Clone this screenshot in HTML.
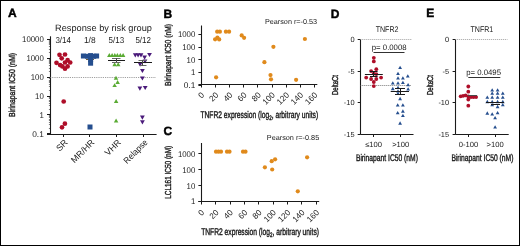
<!DOCTYPE html>
<html><head><meta charset="utf-8"><style>
html,body{margin:0;padding:0;background:#fff;}
.f{position:absolute;left:0;top:0;width:518px;height:244px;border:1px solid #000;overflow:hidden;}
svg{position:absolute;left:-1px;top:-1px;will-change:transform;}
text{font-family:"Liberation Sans", sans-serif;text-rendering:geometricPrecision;}
</style></head><body>
<div class="f"><svg width="520" height="246" viewBox="0 0 520 246">
<text x="8" y="17.4" font-size="12" font-weight="bold" fill="#000" stroke="#000" stroke-width="0.45">A</text>
<text x="163.5" y="17.6" font-size="12" font-weight="bold" fill="#000" stroke="#000" stroke-width="0.45">B</text>
<text x="163.5" y="135.3" font-size="12" font-weight="bold" fill="#000" stroke="#000" stroke-width="0.45">C</text>
<text x="330.8" y="17.6" font-size="12" font-weight="bold" fill="#000" stroke="#000" stroke-width="0.45">D</text>
<text x="426.3" y="17.3" font-size="12" font-weight="bold" fill="#000" stroke="#000" stroke-width="0.45">E</text>
<line x1="50.5" y1="36.3" x2="50.5" y2="134.5" stroke="#1a1a1a" stroke-width="1.1" />
<line x1="47" y1="134.5" x2="156.6" y2="134.5" stroke="#1a1a1a" stroke-width="1.1" />
<line x1="47" y1="133.5" x2="50" y2="133.5" stroke="#1a1a1a" stroke-width="1" />
<text x="43.8" y="136.70000000000002" font-size="8.3" font-weight="normal" fill="#1a1a1a" text-anchor="end" >0.1</text>
<line x1="48.9" y1="128.5" x2="50" y2="128.5" stroke="#444" stroke-width="0.7" />
<line x1="48.9" y1="124.5" x2="50" y2="124.5" stroke="#444" stroke-width="0.7" />
<line x1="48.9" y1="122.5" x2="50" y2="122.5" stroke="#444" stroke-width="0.7" />
<line x1="48.9" y1="120.5" x2="50" y2="120.5" stroke="#444" stroke-width="0.7" />
<line x1="48.9" y1="119.5" x2="50" y2="119.5" stroke="#444" stroke-width="0.7" />
<line x1="48.9" y1="117.5" x2="50" y2="117.5" stroke="#444" stroke-width="0.7" />
<line x1="48.9" y1="116.5" x2="50" y2="116.5" stroke="#444" stroke-width="0.7" />
<line x1="48.9" y1="115.5" x2="50" y2="115.5" stroke="#444" stroke-width="0.7" />
<line x1="47" y1="114.5" x2="50" y2="114.5" stroke="#1a1a1a" stroke-width="1" />
<text x="43.8" y="117.8" font-size="8.3" font-weight="normal" fill="#1a1a1a" text-anchor="end" textLength="4.35" lengthAdjust="spacingAndGlyphs" >1</text>
<line x1="48.9" y1="109.5" x2="50" y2="109.5" stroke="#444" stroke-width="0.7" />
<line x1="48.9" y1="105.5" x2="50" y2="105.5" stroke="#444" stroke-width="0.7" />
<line x1="48.9" y1="103.5" x2="50" y2="103.5" stroke="#444" stroke-width="0.7" />
<line x1="48.9" y1="101.5" x2="50" y2="101.5" stroke="#444" stroke-width="0.7" />
<line x1="48.9" y1="100.5" x2="50" y2="100.5" stroke="#444" stroke-width="0.7" />
<line x1="48.9" y1="98.5" x2="50" y2="98.5" stroke="#444" stroke-width="0.7" />
<line x1="48.9" y1="97.5" x2="50" y2="97.5" stroke="#444" stroke-width="0.7" />
<line x1="48.9" y1="96.5" x2="50" y2="96.5" stroke="#444" stroke-width="0.7" />
<line x1="47" y1="96.5" x2="50" y2="96.5" stroke="#1a1a1a" stroke-width="1" />
<text x="43.8" y="98.9" font-size="8.3" font-weight="normal" fill="#1a1a1a" text-anchor="end" textLength="8.7" lengthAdjust="spacingAndGlyphs" >10</text>
<line x1="48.9" y1="90.5" x2="50" y2="90.5" stroke="#444" stroke-width="0.7" />
<line x1="48.9" y1="86.5" x2="50" y2="86.5" stroke="#444" stroke-width="0.7" />
<line x1="48.9" y1="84.5" x2="50" y2="84.5" stroke="#444" stroke-width="0.7" />
<line x1="48.9" y1="82.5" x2="50" y2="82.5" stroke="#444" stroke-width="0.7" />
<line x1="48.9" y1="81.5" x2="50" y2="81.5" stroke="#444" stroke-width="0.7" />
<line x1="48.9" y1="80.5" x2="50" y2="80.5" stroke="#444" stroke-width="0.7" />
<line x1="48.9" y1="78.5" x2="50" y2="78.5" stroke="#444" stroke-width="0.7" />
<line x1="48.9" y1="77.5" x2="50" y2="77.5" stroke="#444" stroke-width="0.7" />
<line x1="47" y1="77.5" x2="50" y2="77.5" stroke="#1a1a1a" stroke-width="1" />
<text x="43.8" y="80.0" font-size="8.3" font-weight="normal" fill="#1a1a1a" text-anchor="end" textLength="13.049999999999999" lengthAdjust="spacingAndGlyphs" >100</text>
<line x1="48.9" y1="71.5" x2="50" y2="71.5" stroke="#444" stroke-width="0.7" />
<line x1="48.9" y1="68.5" x2="50" y2="68.5" stroke="#444" stroke-width="0.7" />
<line x1="48.9" y1="65.5" x2="50" y2="65.5" stroke="#444" stroke-width="0.7" />
<line x1="48.9" y1="63.5" x2="50" y2="63.5" stroke="#444" stroke-width="0.7" />
<line x1="48.9" y1="62.5" x2="50" y2="62.5" stroke="#444" stroke-width="0.7" />
<line x1="48.9" y1="61.5" x2="50" y2="61.5" stroke="#444" stroke-width="0.7" />
<line x1="48.9" y1="60.5" x2="50" y2="60.5" stroke="#444" stroke-width="0.7" />
<line x1="48.9" y1="59.5" x2="50" y2="59.5" stroke="#444" stroke-width="0.7" />
<line x1="47" y1="58.5" x2="50" y2="58.5" stroke="#1a1a1a" stroke-width="1" />
<text x="43.8" y="61.099999999999994" font-size="8.3" font-weight="normal" fill="#1a1a1a" text-anchor="end" textLength="17.4" lengthAdjust="spacingAndGlyphs" >1000</text>
<line x1="48.9" y1="52.5" x2="50" y2="52.5" stroke="#444" stroke-width="0.7" />
<line x1="48.9" y1="49.5" x2="50" y2="49.5" stroke="#444" stroke-width="0.7" />
<line x1="48.9" y1="46.5" x2="50" y2="46.5" stroke="#444" stroke-width="0.7" />
<line x1="48.9" y1="44.5" x2="50" y2="44.5" stroke="#444" stroke-width="0.7" />
<line x1="48.9" y1="43.5" x2="50" y2="43.5" stroke="#444" stroke-width="0.7" />
<line x1="48.9" y1="42.5" x2="50" y2="42.5" stroke="#444" stroke-width="0.7" />
<line x1="48.9" y1="41.5" x2="50" y2="41.5" stroke="#444" stroke-width="0.7" />
<line x1="48.9" y1="40.5" x2="50" y2="40.5" stroke="#444" stroke-width="0.7" />
<line x1="47" y1="39.5" x2="50" y2="39.5" stroke="#1a1a1a" stroke-width="1" />
<text x="43.8" y="42.199999999999996" font-size="8.3" font-weight="normal" fill="#1a1a1a" text-anchor="end" textLength="21.75" lengthAdjust="spacingAndGlyphs" >10000</text>
<line x1="50" y1="77.5" x2="156" y2="77.5" stroke="#777" stroke-width="0.7" stroke-dasharray="1.2 1"/>
<line x1="63.5" y1="134.0" x2="63.5" y2="137.0" stroke="#1a1a1a" stroke-width="1" />
<text x="68.3" y="143" font-size="8.8" font-weight="normal" fill="#1a1a1a" text-anchor="end" transform="rotate(-45 68.3 143)" >SR</text>
<text x="63.2" y="43.2" font-size="8.6" font-weight="normal" fill="#1a1a1a" text-anchor="middle" textLength="15.6" lengthAdjust="spacingAndGlyphs" >3/14</text>
<line x1="89.5" y1="134.0" x2="89.5" y2="137.0" stroke="#1a1a1a" stroke-width="1" />
<text x="94.89999999999999" y="143" font-size="8.8" font-weight="normal" fill="#1a1a1a" text-anchor="end" transform="rotate(-45 94.89999999999999 143)" >MR/HR</text>
<text x="89.8" y="43.2" font-size="8.6" font-weight="normal" fill="#1a1a1a" text-anchor="middle" textLength="11.7" lengthAdjust="spacingAndGlyphs" >1/8</text>
<line x1="116.5" y1="134.0" x2="116.5" y2="137.0" stroke="#1a1a1a" stroke-width="1" />
<text x="121.5" y="143" font-size="8.8" font-weight="normal" fill="#1a1a1a" text-anchor="end" transform="rotate(-45 121.5 143)" >VHR</text>
<text x="116.4" y="43.2" font-size="8.6" font-weight="normal" fill="#1a1a1a" text-anchor="middle" textLength="15.6" lengthAdjust="spacingAndGlyphs" >5/13</text>
<line x1="143.5" y1="134.0" x2="143.5" y2="137.0" stroke="#1a1a1a" stroke-width="1" />
<text x="148.29999999999998" y="143" font-size="8.8" font-weight="normal" fill="#1a1a1a" text-anchor="end" textLength="30" lengthAdjust="spacingAndGlyphs" transform="rotate(-45 148.29999999999998 143)" >Relapse</text>
<text x="143.2" y="43.2" font-size="8.6" font-weight="normal" fill="#1a1a1a" text-anchor="middle" textLength="15.6" lengthAdjust="spacingAndGlyphs" >5/12</text>
<text x="55" y="30.5" font-size="9.2" font-weight="normal" fill="#1a1a1a" textLength="97" lengthAdjust="spacingAndGlyphs" >Response by risk group</text>
<text x="15" y="117" font-size="8.7" font-weight="normal" fill="#1a1a1a" textLength="64" lengthAdjust="spacingAndGlyphs" transform="rotate(-90 15 117)" stroke="#1a1a1a" stroke-width="0.4">Birinapant IC50 (nM)</text>
<circle cx="59.50" cy="54.80" r="2.35" fill="#ae0e29"/>
<circle cx="65.00" cy="54.50" r="2.35" fill="#ae0e29"/>
<circle cx="61.70" cy="58.30" r="2.35" fill="#ae0e29"/>
<circle cx="56.50" cy="62.80" r="2.35" fill="#ae0e29"/>
<circle cx="60.10" cy="65.10" r="2.35" fill="#ae0e29"/>
<circle cx="65.00" cy="62.50" r="2.35" fill="#ae0e29"/>
<circle cx="67.60" cy="60.20" r="2.35" fill="#ae0e29"/>
<circle cx="70.20" cy="62.50" r="2.35" fill="#ae0e29"/>
<circle cx="62.40" cy="66.40" r="2.35" fill="#ae0e29"/>
<circle cx="65.00" cy="68.70" r="2.35" fill="#ae0e29"/>
<circle cx="67.60" cy="66.40" r="2.35" fill="#ae0e29"/>
<circle cx="63.70" cy="101.50" r="2.35" fill="#ae0e29"/>
<circle cx="62.00" cy="127.30" r="2.35" fill="#ae0e29"/>
<circle cx="64.90" cy="123.70" r="2.35" fill="#ae0e29"/>
<line x1="86" y1="59.5" x2="94" y2="59.5" stroke="#6b5a3a" stroke-width="1" />
<rect x="80.90" y="53.50" width="5" height="5" fill="#254e8e"/>
<rect x="85.10" y="53.80" width="5" height="5" fill="#254e8e"/>
<rect x="88.10" y="53.10" width="5" height="5" fill="#254e8e"/>
<rect x="91.20" y="53.80" width="5" height="5" fill="#254e8e"/>
<rect x="94.10" y="53.50" width="5" height="5" fill="#254e8e"/>
<rect x="88.10" y="57.00" width="5" height="5" fill="#254e8e"/>
<rect x="88.10" y="60.70" width="5" height="5" fill="#254e8e"/>
<rect x="87.50" y="124.50" width="5" height="5" fill="#254e8e"/>
<polygon points="107.05,56.96 111.55,56.96 109.30,53.04" fill="#5aab34"/>
<polygon points="109.85,56.96 114.35,56.96 112.10,53.04" fill="#5aab34"/>
<polygon points="112.55,56.96 117.05,56.96 114.80,53.04" fill="#5aab34"/>
<polygon points="115.15,56.96 119.65,56.96 117.40,53.04" fill="#5aab34"/>
<polygon points="118.05,56.96 122.55,56.96 120.30,53.04" fill="#5aab34"/>
<polygon points="120.85,56.96 125.35,56.96 123.10,53.04" fill="#5aab34"/>
<polygon points="112.35,66.26 116.85,66.26 114.60,62.34" fill="#5aab34"/>
<polygon points="115.95,66.26 120.45,66.26 118.20,62.34" fill="#5aab34"/>
<polygon points="113.75,79.76 118.25,79.76 116.00,75.84" fill="#5aab34"/>
<polygon points="115.35,83.96 119.85,83.96 117.60,80.04" fill="#5aab34"/>
<polygon points="112.35,87.06 116.85,87.06 114.60,83.14" fill="#5aab34"/>
<polygon points="113.85,102.96 118.35,102.96 116.10,99.04" fill="#5aab34"/>
<polygon points="113.85,122.46 118.35,122.46 116.10,118.54" fill="#5aab34"/>
<line x1="108" y1="60.5" x2="125" y2="60.5" stroke="#1a1a1a" stroke-width="1" />
<line x1="112" y1="58.5" x2="120.5" y2="58.5" stroke="#666" stroke-width="1" />
<line x1="112" y1="62.5" x2="120.5" y2="62.5" stroke="#666" stroke-width="1" />
<line x1="116.5" y1="58.3" x2="116.5" y2="62" stroke="#444" stroke-width="1" />
<polygon points="132.90,53.31 137.70,53.31 135.30,57.49" fill="#4a1a7a"/>
<polygon points="135.70,53.31 140.50,53.31 138.10,57.49" fill="#4a1a7a"/>
<polygon points="138.60,53.31 143.40,53.31 141.00,57.49" fill="#4a1a7a"/>
<polygon points="142.20,55.51 147.00,55.51 144.60,59.69" fill="#4a1a7a"/>
<polygon points="147.10,52.91 151.90,52.91 149.50,57.09" fill="#4a1a7a"/>
<polygon points="142.60,59.41 147.40,59.41 145.00,63.59" fill="#4a1a7a"/>
<polygon points="137.70,62.51 142.50,62.51 140.10,66.69" fill="#4a1a7a"/>
<polygon points="140.00,68.91 144.80,68.91 142.40,73.09" fill="#4a1a7a"/>
<polygon points="140.00,76.41 144.80,76.41 142.40,80.59" fill="#4a1a7a"/>
<polygon points="137.50,86.51 142.30,86.51 139.90,90.69" fill="#4a1a7a"/>
<polygon points="142.80,85.91 147.60,85.91 145.20,90.09" fill="#4a1a7a"/>
<polygon points="140.00,115.51 144.80,115.51 142.40,119.69" fill="#4a1a7a"/>
<polygon points="140.00,120.31 144.80,120.31 142.40,124.49" fill="#4a1a7a"/>
<line x1="134" y1="62.5" x2="152" y2="62.5" stroke="#1a1a1a" stroke-width="1" />
<line x1="138.5" y1="60.5" x2="146.5" y2="60.5" stroke="#666" stroke-width="1" />
<line x1="139.5" y1="65.5" x2="146.5" y2="65.5" stroke="#666" stroke-width="1" />
<line x1="142.5" y1="60.4" x2="142.5" y2="65.4" stroke="#444" stroke-width="1" />
<line x1="201.5" y1="25.5" x2="201.5" y2="85" stroke="#1a1a1a" stroke-width="1.1" />
<line x1="198.4" y1="84.5" x2="317.3" y2="84.5" stroke="#1a1a1a" stroke-width="1.1" />
<line x1="198.4" y1="85.5" x2="201.4" y2="85.5" stroke="#1a1a1a" stroke-width="1" />
<text x="195.3" y="87.9" font-size="8.3" font-weight="normal" fill="#1a1a1a" text-anchor="end" >0.1</text>
<line x1="198.4" y1="72.5" x2="201.4" y2="72.5" stroke="#1a1a1a" stroke-width="1" />
<text x="195.3" y="75.25" font-size="8.3" font-weight="normal" fill="#1a1a1a" text-anchor="end" textLength="4.35" lengthAdjust="spacingAndGlyphs" >1</text>
<line x1="198.4" y1="59.5" x2="201.4" y2="59.5" stroke="#1a1a1a" stroke-width="1" />
<text x="195.3" y="62.6" font-size="8.3" font-weight="normal" fill="#1a1a1a" text-anchor="end" textLength="8.7" lengthAdjust="spacingAndGlyphs" >10</text>
<line x1="198.4" y1="47.5" x2="201.4" y2="47.5" stroke="#1a1a1a" stroke-width="1" />
<text x="195.3" y="49.949999999999996" font-size="8.3" font-weight="normal" fill="#1a1a1a" text-anchor="end" textLength="13.049999999999999" lengthAdjust="spacingAndGlyphs" >100</text>
<line x1="198.4" y1="34.5" x2="201.4" y2="34.5" stroke="#1a1a1a" stroke-width="1" />
<text x="195.3" y="37.3" font-size="8.3" font-weight="normal" fill="#1a1a1a" text-anchor="end" textLength="17.4" lengthAdjust="spacingAndGlyphs" >1000</text>
<line x1="201.5" y1="84.5" x2="201.5" y2="87.5" stroke="#1a1a1a" stroke-width="1" />
<text x="204.8" y="95.5" font-size="8.2" font-weight="normal" fill="#1a1a1a" text-anchor="end" transform="rotate(-45 204.8 95.5)" >0</text>
<line x1="215.5" y1="84.5" x2="215.5" y2="87.5" stroke="#1a1a1a" stroke-width="1" />
<text x="218.94" y="95.5" font-size="8.2" font-weight="normal" fill="#1a1a1a" text-anchor="end" transform="rotate(-45 218.94 95.5)" >20</text>
<line x1="229.5" y1="84.5" x2="229.5" y2="87.5" stroke="#1a1a1a" stroke-width="1" />
<text x="233.08" y="95.5" font-size="8.2" font-weight="normal" fill="#1a1a1a" text-anchor="end" transform="rotate(-45 233.08 95.5)" >40</text>
<line x1="243.5" y1="84.5" x2="243.5" y2="87.5" stroke="#1a1a1a" stroke-width="1" />
<text x="247.22" y="95.5" font-size="8.2" font-weight="normal" fill="#1a1a1a" text-anchor="end" transform="rotate(-45 247.22 95.5)" >60</text>
<line x1="257.5" y1="84.5" x2="257.5" y2="87.5" stroke="#1a1a1a" stroke-width="1" />
<text x="261.35999999999996" y="95.5" font-size="8.2" font-weight="normal" fill="#1a1a1a" text-anchor="end" transform="rotate(-45 261.35999999999996 95.5)" >80</text>
<line x1="272.5" y1="84.5" x2="272.5" y2="87.5" stroke="#1a1a1a" stroke-width="1" />
<text x="275.5" y="95.5" font-size="8.2" font-weight="normal" fill="#1a1a1a" text-anchor="end" transform="rotate(-45 275.5 95.5)" >100</text>
<line x1="286.5" y1="84.5" x2="286.5" y2="87.5" stroke="#1a1a1a" stroke-width="1" />
<text x="289.64" y="95.5" font-size="8.2" font-weight="normal" fill="#1a1a1a" text-anchor="end" transform="rotate(-45 289.64 95.5)" >120</text>
<line x1="300.5" y1="84.5" x2="300.5" y2="87.5" stroke="#1a1a1a" stroke-width="1" />
<text x="303.78" y="95.5" font-size="8.2" font-weight="normal" fill="#1a1a1a" text-anchor="end" transform="rotate(-45 303.78 95.5)" >140</text>
<line x1="314.5" y1="84.5" x2="314.5" y2="87.5" stroke="#1a1a1a" stroke-width="1" />
<text x="317.91999999999996" y="95.5" font-size="8.2" font-weight="normal" fill="#1a1a1a" text-anchor="end" transform="rotate(-45 317.91999999999996 95.5)" >160</text>
<text x="200.4" y="118.3" font-size="9.7" font-weight="normal" fill="#1a1a1a" textLength="117.8" lengthAdjust="spacingAndGlyphs" stroke="#1a1a1a" stroke-width="0.4">TNFR2 expression (log<tspan font-size="6.5" dy="2">2</tspan><tspan dy="-2">, arbitrary units)</tspan></text>
<text x="265" y="24.3" font-size="7.2" font-weight="normal" fill="#1a1a1a" textLength="52" lengthAdjust="spacingAndGlyphs" >Pearson r=-0.53</text>
<text x="171" y="86" font-size="8.7" font-weight="normal" fill="#1a1a1a" textLength="62" lengthAdjust="spacingAndGlyphs" transform="rotate(-90 171 86)" stroke="#1a1a1a" stroke-width="0.4">Birinapant IC50 (nM)</text>
<circle cx="217.20" cy="31.70" r="2.1" fill="#e08a1c"/>
<circle cx="219.90" cy="31.70" r="2.1" fill="#e08a1c"/>
<circle cx="225.90" cy="31.70" r="2.1" fill="#e08a1c"/>
<circle cx="229.10" cy="31.70" r="2.1" fill="#e08a1c"/>
<circle cx="215.10" cy="39.30" r="2.1" fill="#e08a1c"/>
<circle cx="217.40" cy="37.70" r="2.1" fill="#e08a1c"/>
<circle cx="219.20" cy="39.40" r="2.1" fill="#e08a1c"/>
<circle cx="241.70" cy="35.40" r="2.1" fill="#e08a1c"/>
<circle cx="244.10" cy="37.80" r="2.1" fill="#e08a1c"/>
<circle cx="273.40" cy="46.80" r="2.1" fill="#e08a1c"/>
<circle cx="304.90" cy="39.00" r="2.1" fill="#e08a1c"/>
<circle cx="264.40" cy="62.20" r="2.1" fill="#e08a1c"/>
<circle cx="216.10" cy="77.30" r="2.1" fill="#e08a1c"/>
<circle cx="270.50" cy="75.10" r="2.1" fill="#e08a1c"/>
<circle cx="271.00" cy="79.30" r="2.1" fill="#e08a1c"/>
<circle cx="296.10" cy="79.80" r="2.1" fill="#e08a1c"/>
<line x1="201.5" y1="143" x2="201.5" y2="201.5" stroke="#1a1a1a" stroke-width="1.1" />
<line x1="198.4" y1="201.5" x2="319.2" y2="201.5" stroke="#1a1a1a" stroke-width="1.1" />
<line x1="198.4" y1="201.5" x2="201.4" y2="201.5" stroke="#1a1a1a" stroke-width="1" />
<text x="195.3" y="204.4" font-size="8.3" font-weight="normal" fill="#1a1a1a" text-anchor="end" textLength="4.35" lengthAdjust="spacingAndGlyphs" >1</text>
<line x1="198.4" y1="185.5" x2="201.4" y2="185.5" stroke="#1a1a1a" stroke-width="1" />
<text x="195.3" y="188.50000000000003" font-size="8.3" font-weight="normal" fill="#1a1a1a" text-anchor="end" textLength="8.7" lengthAdjust="spacingAndGlyphs" >10</text>
<line x1="198.4" y1="169.5" x2="201.4" y2="169.5" stroke="#1a1a1a" stroke-width="1" />
<text x="195.3" y="172.60000000000002" font-size="8.3" font-weight="normal" fill="#1a1a1a" text-anchor="end" textLength="13.049999999999999" lengthAdjust="spacingAndGlyphs" >100</text>
<line x1="198.4" y1="153.5" x2="201.4" y2="153.5" stroke="#1a1a1a" stroke-width="1" />
<text x="195.3" y="156.70000000000002" font-size="8.3" font-weight="normal" fill="#1a1a1a" text-anchor="end" textLength="17.4" lengthAdjust="spacingAndGlyphs" >1000</text>
<line x1="201.5" y1="201.5" x2="201.5" y2="204.5" stroke="#1a1a1a" stroke-width="1" />
<text x="204.8" y="213" font-size="8.2" font-weight="normal" fill="#1a1a1a" text-anchor="end" transform="rotate(-45 204.8 213)" >0</text>
<line x1="215.5" y1="201.5" x2="215.5" y2="204.5" stroke="#1a1a1a" stroke-width="1" />
<text x="219.16" y="213" font-size="8.2" font-weight="normal" fill="#1a1a1a" text-anchor="end" transform="rotate(-45 219.16 213)" >20</text>
<line x1="230.5" y1="201.5" x2="230.5" y2="204.5" stroke="#1a1a1a" stroke-width="1" />
<text x="233.52" y="213" font-size="8.2" font-weight="normal" fill="#1a1a1a" text-anchor="end" transform="rotate(-45 233.52 213)" >40</text>
<line x1="244.5" y1="201.5" x2="244.5" y2="204.5" stroke="#1a1a1a" stroke-width="1" />
<text x="247.88000000000002" y="213" font-size="8.2" font-weight="normal" fill="#1a1a1a" text-anchor="end" transform="rotate(-45 247.88000000000002 213)" >60</text>
<line x1="258.5" y1="201.5" x2="258.5" y2="204.5" stroke="#1a1a1a" stroke-width="1" />
<text x="262.24" y="213" font-size="8.2" font-weight="normal" fill="#1a1a1a" text-anchor="end" transform="rotate(-45 262.24 213)" >80</text>
<line x1="273.5" y1="201.5" x2="273.5" y2="204.5" stroke="#1a1a1a" stroke-width="1" />
<text x="276.59999999999997" y="213" font-size="8.2" font-weight="normal" fill="#1a1a1a" text-anchor="end" transform="rotate(-45 276.59999999999997 213)" >100</text>
<line x1="287.5" y1="201.5" x2="287.5" y2="204.5" stroke="#1a1a1a" stroke-width="1" />
<text x="290.96" y="213" font-size="8.2" font-weight="normal" fill="#1a1a1a" text-anchor="end" transform="rotate(-45 290.96 213)" >120</text>
<line x1="301.5" y1="201.5" x2="301.5" y2="204.5" stroke="#1a1a1a" stroke-width="1" />
<text x="305.32" y="213" font-size="8.2" font-weight="normal" fill="#1a1a1a" text-anchor="end" transform="rotate(-45 305.32 213)" >140</text>
<line x1="316.5" y1="201.5" x2="316.5" y2="204.5" stroke="#1a1a1a" stroke-width="1" />
<text x="319.67999999999995" y="213" font-size="8.2" font-weight="normal" fill="#1a1a1a" text-anchor="end" transform="rotate(-45 319.67999999999995 213)" >160</text>
<text x="201.2" y="235.3" font-size="9.7" font-weight="normal" fill="#1a1a1a" textLength="117.8" lengthAdjust="spacingAndGlyphs" stroke="#1a1a1a" stroke-width="0.4">TNFR2 expression (log<tspan font-size="6.5" dy="2">2</tspan><tspan dy="-2">, arbitrary units)</tspan></text>
<text x="266.8" y="140.3" font-size="7.2" font-weight="normal" fill="#1a1a1a" textLength="52.4" lengthAdjust="spacingAndGlyphs" >Pearson r=-0.85</text>
<text x="171" y="198.8" font-size="8.7" font-weight="normal" fill="#1a1a1a" textLength="53" lengthAdjust="spacingAndGlyphs" transform="rotate(-90 171 198.8)" stroke="#1a1a1a" stroke-width="0.4">LCL161 IC50 (nM)</text>
<circle cx="216.00" cy="151.70" r="2.1" fill="#e08a1c"/>
<circle cx="218.50" cy="151.70" r="2.1" fill="#e08a1c"/>
<circle cx="221.00" cy="151.70" r="2.1" fill="#e08a1c"/>
<circle cx="227.00" cy="151.70" r="2.1" fill="#e08a1c"/>
<circle cx="229.50" cy="151.70" r="2.1" fill="#e08a1c"/>
<circle cx="243.00" cy="151.70" r="2.1" fill="#e08a1c"/>
<circle cx="245.50" cy="151.70" r="2.1" fill="#e08a1c"/>
<circle cx="264.90" cy="167.30" r="2.1" fill="#e08a1c"/>
<circle cx="271.70" cy="161.20" r="2.1" fill="#e08a1c"/>
<circle cx="275.10" cy="159.30" r="2.1" fill="#e08a1c"/>
<circle cx="272.20" cy="169.50" r="2.1" fill="#e08a1c"/>
<circle cx="307.10" cy="157.30" r="2.1" fill="#e08a1c"/>
<circle cx="297.80" cy="191.30" r="2.1" fill="#e08a1c"/>
<line x1="360.5" y1="39.3" x2="360.5" y2="134.5" stroke="#1a1a1a" stroke-width="1.1" />
<line x1="360.3" y1="134.5" x2="413.5" y2="134.5" stroke="#1a1a1a" stroke-width="1.1" />
<line x1="357.7" y1="39.5" x2="360.3" y2="39.5" stroke="#1a1a1a" stroke-width="1" />
<text x="354.5" y="42.1" font-size="7.4" font-weight="normal" fill="#1a1a1a" text-anchor="end" >0</text>
<line x1="357.7" y1="71.5" x2="360.3" y2="71.5" stroke="#1a1a1a" stroke-width="1" />
<text x="354.5" y="73.6" font-size="7.4" font-weight="normal" fill="#1a1a1a" text-anchor="end" >-5</text>
<line x1="357.7" y1="102.5" x2="360.3" y2="102.5" stroke="#1a1a1a" stroke-width="1" />
<text x="354.5" y="105.1" font-size="7.4" font-weight="normal" fill="#1a1a1a" text-anchor="end" >-10</text>
<line x1="357.7" y1="134.5" x2="360.3" y2="134.5" stroke="#1a1a1a" stroke-width="1" />
<text x="354.5" y="136.6" font-size="7.4" font-weight="normal" fill="#1a1a1a" text-anchor="end" >-15</text>
<line x1="360.3" y1="39.5" x2="411.5" y2="39.5" stroke="#888" stroke-width="0.8" stroke-dasharray="1 1"/>
<text x="375.7" y="32.3" font-size="8.2" font-weight="normal" fill="#1a1a1a" textLength="22.8" lengthAdjust="spacingAndGlyphs" >TNFR2</text>
<text x="371.8" y="49.6" font-size="7.9" font-weight="normal" fill="#1a1a1a" textLength="34.8" lengthAdjust="spacingAndGlyphs" >p= 0.0008</text>
<line x1="373.5" y1="52.5" x2="404.5" y2="52.5" stroke="#1a1a1a" stroke-width="0.9" />
<line x1="373.5" y1="134" x2="373.5" y2="137" stroke="#1a1a1a" stroke-width="1" />
<text x="373.6" y="147.1" font-size="7.6" font-weight="normal" fill="#1a1a1a" text-anchor="middle" >≤100</text>
<line x1="400.5" y1="134" x2="400.5" y2="137" stroke="#1a1a1a" stroke-width="1" />
<text x="400.7" y="147.1" font-size="7.6" font-weight="normal" fill="#1a1a1a" text-anchor="middle" >&gt;100</text>
<text x="386.9" y="160.8" font-size="9.6" font-weight="normal" fill="#1a1a1a" text-anchor="middle" textLength="62" lengthAdjust="spacingAndGlyphs" stroke="#1a1a1a" stroke-width="0.4">Birinapant IC50 (nM)</text>
<text x="337.5" y="95" font-size="8.6" font-weight="normal" fill="#1a1a1a" textLength="20" lengthAdjust="spacingAndGlyphs" transform="rotate(-90 337.5 95)" stroke="#1a1a1a" stroke-width="0.4">DeltaCt</text>
<line x1="360.3" y1="85.5" x2="411" y2="85.5" stroke="#555" stroke-width="0.8" stroke-dasharray="1 1"/>
<circle cx="373.80" cy="57.80" r="1.9" fill="#ae0e29"/>
<circle cx="373.80" cy="61.40" r="1.9" fill="#ae0e29"/>
<circle cx="376.30" cy="69.20" r="1.9" fill="#ae0e29"/>
<circle cx="371.10" cy="71.10" r="1.9" fill="#ae0e29"/>
<circle cx="376.30" cy="74.10" r="1.9" fill="#ae0e29"/>
<circle cx="366.20" cy="77.60" r="1.9" fill="#ae0e29"/>
<circle cx="371.10" cy="79.00" r="1.9" fill="#ae0e29"/>
<circle cx="376.30" cy="79.00" r="1.9" fill="#ae0e29"/>
<circle cx="381.10" cy="77.60" r="1.9" fill="#ae0e29"/>
<circle cx="373.80" cy="82.00" r="1.9" fill="#ae0e29"/>
<circle cx="373.80" cy="86.10" r="1.9" fill="#ae0e29"/>
<circle cx="373.80" cy="73.60" r="1.9" fill="#ae0e29"/>
<polygon points="398.20,68.95 402.00,68.95 400.10,65.65" fill="#254e8e"/>
<polygon points="396.10,74.95 399.90,74.95 398.00,71.65" fill="#254e8e"/>
<polygon points="396.10,79.55 399.90,79.55 398.00,76.25" fill="#254e8e"/>
<polygon points="401.00,79.55 404.80,79.55 402.90,76.25" fill="#254e8e"/>
<polygon points="405.90,77.45 409.70,77.45 407.80,74.15" fill="#254e8e"/>
<polygon points="390.90,84.45 394.70,84.45 392.80,81.15" fill="#254e8e"/>
<polygon points="396.10,84.45 399.90,84.45 398.00,81.15" fill="#254e8e"/>
<polygon points="401.00,83.95 404.80,83.95 402.90,80.65" fill="#254e8e"/>
<polygon points="406.20,86.35 410.00,86.35 408.10,83.05" fill="#254e8e"/>
<polygon points="390.90,90.15 394.70,90.15 392.80,86.85" fill="#254e8e"/>
<polygon points="396.10,88.95 399.90,88.95 398.00,85.65" fill="#254e8e"/>
<polygon points="406.20,90.55 410.00,90.55 408.10,87.25" fill="#254e8e"/>
<polygon points="396.10,92.55 399.90,92.55 398.00,89.25" fill="#254e8e"/>
<polygon points="396.10,94.95 399.90,94.95 398.00,91.65" fill="#254e8e"/>
<polygon points="398.20,100.15 402.00,100.15 400.10,96.85" fill="#254e8e"/>
<polygon points="395.80,106.45 399.60,106.45 397.70,103.15" fill="#254e8e"/>
<polygon points="401.00,106.45 404.80,106.45 402.90,103.15" fill="#254e8e"/>
<polygon points="395.80,114.25 399.60,114.25 397.70,110.95" fill="#254e8e"/>
<polygon points="401.00,112.65 404.80,112.65 402.90,109.35" fill="#254e8e"/>
<polygon points="401.00,116.95 404.80,116.95 402.90,113.65" fill="#254e8e"/>
<polygon points="398.20,124.65 402.00,124.65 400.10,121.35" fill="#254e8e"/>
<line x1="364.9" y1="74.5" x2="382.8" y2="74.5" stroke="#1a1a1a" stroke-width="1" />
<line x1="370" y1="71.5" x2="377.6" y2="71.5" stroke="#1a1a1a" stroke-width="1" />
<line x1="370" y1="76.5" x2="377.6" y2="76.5" stroke="#1a1a1a" stroke-width="1" />
<line x1="373.5" y1="71.5" x2="373.5" y2="76" stroke="#1a1a1a" stroke-width="1" />
<line x1="390.7" y1="91.5" x2="409" y2="91.5" stroke="#1a1a1a" stroke-width="1" />
<line x1="395" y1="88.5" x2="405" y2="88.5" stroke="#1a1a1a" stroke-width="1" />
<line x1="395" y1="94.5" x2="405" y2="94.5" stroke="#1a1a1a" stroke-width="1" />
<line x1="400.5" y1="88.5" x2="400.5" y2="94.1" stroke="#1a1a1a" stroke-width="1" />
<line x1="455.5" y1="39.3" x2="455.5" y2="134.5" stroke="#1a1a1a" stroke-width="1.1" />
<line x1="455.2" y1="134.5" x2="508.7" y2="134.5" stroke="#1a1a1a" stroke-width="1.1" />
<line x1="452.59999999999997" y1="39.5" x2="455.2" y2="39.5" stroke="#1a1a1a" stroke-width="1" />
<text x="449.1" y="42.1" font-size="7.4" font-weight="normal" fill="#1a1a1a" text-anchor="end" >0</text>
<line x1="452.59999999999997" y1="71.5" x2="455.2" y2="71.5" stroke="#1a1a1a" stroke-width="1" />
<text x="449.1" y="73.6" font-size="7.4" font-weight="normal" fill="#1a1a1a" text-anchor="end" >-5</text>
<line x1="452.59999999999997" y1="102.5" x2="455.2" y2="102.5" stroke="#1a1a1a" stroke-width="1" />
<text x="449.1" y="105.1" font-size="7.4" font-weight="normal" fill="#1a1a1a" text-anchor="end" >-10</text>
<line x1="452.59999999999997" y1="134.5" x2="455.2" y2="134.5" stroke="#1a1a1a" stroke-width="1" />
<text x="449.1" y="136.6" font-size="7.4" font-weight="normal" fill="#1a1a1a" text-anchor="end" >-15</text>
<line x1="455.2" y1="39.5" x2="507.6" y2="39.5" stroke="#888" stroke-width="0.8" stroke-dasharray="1 1"/>
<text x="470.5" y="32.3" font-size="8.2" font-weight="normal" fill="#1a1a1a" textLength="22.8" lengthAdjust="spacingAndGlyphs" >TNFR1</text>
<text x="466.2" y="74.5" font-size="7.9" font-weight="normal" fill="#1a1a1a" textLength="34.8" lengthAdjust="spacingAndGlyphs" >p= 0.0495</text>
<line x1="468.3" y1="77.5" x2="500.3" y2="77.5" stroke="#1a1a1a" stroke-width="0.9" />
<line x1="468.5" y1="134" x2="468.5" y2="137" stroke="#1a1a1a" stroke-width="1" />
<text x="468.5" y="147.1" font-size="7.6" font-weight="normal" fill="#1a1a1a" text-anchor="middle" >0-100</text>
<line x1="495.5" y1="134" x2="495.5" y2="137" stroke="#1a1a1a" stroke-width="1" />
<text x="495.1" y="147.1" font-size="7.6" font-weight="normal" fill="#1a1a1a" text-anchor="middle" >&gt;100</text>
<text x="482.4" y="160.8" font-size="9.6" font-weight="normal" fill="#1a1a1a" text-anchor="middle" textLength="62" lengthAdjust="spacingAndGlyphs" stroke="#1a1a1a" stroke-width="0.4">Birinapant IC50 (nM)</text>
<text x="432.5" y="95" font-size="8.6" font-weight="normal" fill="#1a1a1a" textLength="20" lengthAdjust="spacingAndGlyphs" transform="rotate(-90 432.5 95)" stroke="#1a1a1a" stroke-width="0.4">DeltaCt</text>
<circle cx="468.30" cy="86.50" r="1.9" fill="#ae0e29"/>
<circle cx="468.30" cy="91.70" r="1.9" fill="#ae0e29"/>
<circle cx="460.70" cy="96.30" r="1.9" fill="#ae0e29"/>
<circle cx="463.10" cy="95.80" r="1.9" fill="#ae0e29"/>
<circle cx="465.60" cy="95.40" r="1.9" fill="#ae0e29"/>
<circle cx="468.30" cy="96.50" r="1.9" fill="#ae0e29"/>
<circle cx="471.00" cy="97.00" r="1.9" fill="#ae0e29"/>
<circle cx="473.50" cy="97.00" r="1.9" fill="#ae0e29"/>
<circle cx="476.10" cy="97.10" r="1.9" fill="#ae0e29"/>
<circle cx="468.30" cy="99.50" r="1.9" fill="#ae0e29"/>
<circle cx="468.30" cy="105.70" r="1.9" fill="#ae0e29"/>
<line x1="468" y1="95.5" x2="477" y2="95.5" stroke="#4a4a4a" stroke-width="1" />
<polygon points="490.30,91.55 494.10,91.55 492.20,88.25" fill="#254e8e"/>
<polygon points="495.70,91.55 499.50,91.55 497.60,88.25" fill="#254e8e"/>
<polygon points="490.30,94.75 494.10,94.75 492.20,91.45" fill="#254e8e"/>
<polygon points="495.70,94.75 499.50,94.75 497.60,91.45" fill="#254e8e"/>
<polygon points="500.90,94.75 504.70,94.75 502.80,91.45" fill="#254e8e"/>
<polygon points="485.40,98.85 489.20,98.85 487.30,95.55" fill="#254e8e"/>
<polygon points="490.30,98.85 494.10,98.85 492.20,95.55" fill="#254e8e"/>
<polygon points="495.70,98.85 499.50,98.85 497.60,95.55" fill="#254e8e"/>
<polygon points="500.90,98.85 504.70,98.85 502.80,95.55" fill="#254e8e"/>
<polygon points="485.40,103.15 489.20,103.15 487.30,99.85" fill="#254e8e"/>
<polygon points="490.30,103.15 494.10,103.15 492.20,99.85" fill="#254e8e"/>
<polygon points="495.70,103.15 499.50,103.15 497.60,99.85" fill="#254e8e"/>
<polygon points="500.90,103.15 504.70,103.15 502.80,99.85" fill="#254e8e"/>
<polygon points="490.30,106.25 494.10,106.25 492.20,102.95" fill="#254e8e"/>
<polygon points="500.90,106.25 504.70,106.25 502.80,102.95" fill="#254e8e"/>
<polygon points="495.70,108.15 499.50,108.15 497.60,104.85" fill="#254e8e"/>
<polygon points="485.40,114.65 489.20,114.65 487.30,111.35" fill="#254e8e"/>
<polygon points="490.30,115.45 494.10,115.45 492.20,112.15" fill="#254e8e"/>
<polygon points="495.70,114.35 499.50,114.35 497.60,111.05" fill="#254e8e"/>
<polygon points="493.20,119.25 497.00,119.25 495.10,115.95" fill="#254e8e"/>
<polygon points="493.20,128.45 497.00,128.45 495.10,125.15" fill="#254e8e"/>
<line x1="486" y1="102.5" x2="504" y2="102.5" stroke="#1a1a1a" stroke-width="1" />
<line x1="491" y1="104.5" x2="500" y2="104.5" stroke="#1a1a1a" stroke-width="1" />
</svg></div>
</body></html>
